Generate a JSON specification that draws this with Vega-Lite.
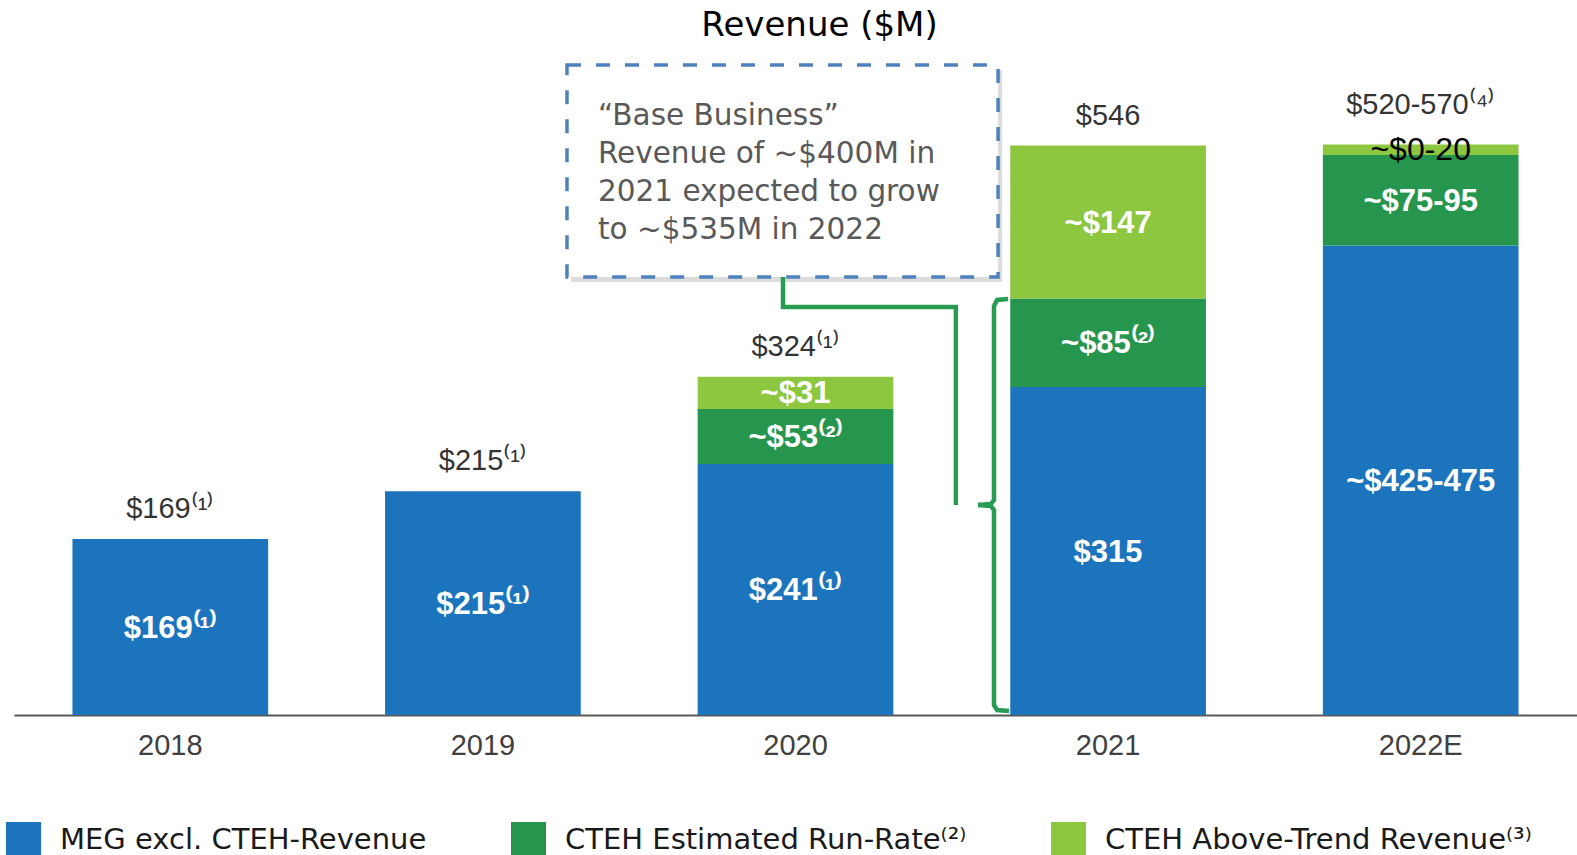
{
  "$schema": "https://vega.github.io/schema/vega-lite/v6.json",
  "width": 1563,
  "height": 665,
  "autosize": {"type": "none"},
  "padding": {"left": 14, "top": 50, "right": 0, "bottom": 140},
  "background": "white",
  "config": {"view": {"stroke": null}},
  "title": {"text": "Revenue ($M)", "font": "DejaVu Sans", "fontSize": 34, "fontWeight": "normal", "color": "#000000", "anchor": "middle", "dx": 24, "offset": -20, "baseline": "alphabetic"},
  "datasets": {
    "segments": [
      {"year": "2018", "segment": "MEG excl. CTEH-Revenue", "order": 1, "value": 169, "label": "$169⁽¹⁾"},
      {"year": "2019", "segment": "MEG excl. CTEH-Revenue", "order": 1, "value": 215, "label": "$215⁽¹⁾"},
      {"year": "2020", "segment": "MEG excl. CTEH-Revenue", "order": 1, "value": 241, "label": "$241⁽¹⁾"},
      {"year": "2020", "segment": "CTEH Estimated Run-Rate⁽²⁾", "order": 2, "value": 53, "label": "~$53⁽²⁾"},
      {"year": "2020", "segment": "CTEH Above-Trend Revenue⁽³⁾", "order": 3, "value": 31, "label": "~$31"},
      {"year": "2021", "segment": "MEG excl. CTEH-Revenue", "order": 1, "value": 315, "label": "$315"},
      {"year": "2021", "segment": "CTEH Estimated Run-Rate⁽²⁾", "order": 2, "value": 85, "label": "~$85⁽²⁾"},
      {"year": "2021", "segment": "CTEH Above-Trend Revenue⁽³⁾", "order": 3, "value": 147, "label": "~$147"},
      {"year": "2022E", "segment": "MEG excl. CTEH-Revenue", "order": 1, "value": 451, "label": "~$425-475"},
      {"year": "2022E", "segment": "CTEH Estimated Run-Rate⁽²⁾", "order": 2, "value": 87, "label": "~$75-95"},
      {"year": "2022E", "segment": "CTEH Above-Trend Revenue⁽³⁾", "order": 3, "value": 10, "label": "~$0-20"}
    ],
    "totals": [
      {"year": "2018", "total": 169, "label": "$169⁽¹⁾"},
      {"year": "2019", "total": 215, "label": "$215⁽¹⁾"},
      {"year": "2020", "total": 325, "label": "$324⁽¹⁾"},
      {"year": "2021", "total": 547, "label": "$546"},
      {"year": "2022E", "total": 548, "label": "$520-570⁽⁴⁾"}
    ],
    "connectors": [
      {"seg": "link", "o": 1, "xi": 1.960, "v": 420.7},
      {"seg": "link", "o": 2, "xi": 1.960, "v": 391.9},
      {"seg": "link", "o": 3, "xi": 2.513, "v": 391.9},
      {"seg": "link", "o": 4, "xi": 2.513, "v": 201.7},
      {"seg": "braceTop", "o": 1, "xi": 2.680, "v": 399.6},
      {"seg": "braceTop", "o": 2, "xi": 2.645, "v": 398.7},
      {"seg": "braceTop", "o": 3, "xi": 2.635, "v": 392.9},
      {"seg": "braceTop", "o": 4, "xi": 2.635, "v": 206.5},
      {"seg": "braceTop", "o": 5, "xi": 2.625, "v": 202.7},
      {"seg": "braceTop", "o": 6, "xi": 2.584, "v": 201.7},
      {"seg": "braceBottom", "o": 1, "xi": 2.584, "v": 201.7},
      {"seg": "braceBottom", "o": 2, "xi": 2.625, "v": 200.8},
      {"seg": "braceBottom", "o": 3, "xi": 2.635, "v": 196.9},
      {"seg": "braceBottom", "o": 4, "xi": 2.635, "v": 9.6},
      {"seg": "braceBottom", "o": 5, "xi": 2.645, "v": 4.8},
      {"seg": "braceBottom", "o": 6, "xi": 2.683, "v": 3.8}
    ]
  },
  "resolve": {"scale": {"x": "independent"}},
  "layer": [
    {
      "data": {"name": "segments"},
      "transform": [
        {"stack": "value", "groupby": ["year"], "sort": [{"field": "order", "order": "ascending"}], "as": ["y0", "y1"]}
      ],
      "layer": [
        {
          "mark": {"type": "bar"},
          "encoding": {
            "x": {"field": "year", "type": "nominal", "sort": null,
              "scale": {"domain": ["2018", "2019", "2020", "2021", "2022E"], "paddingInner": 0.374, "paddingOuter": 0.187},
              "axis": {"title": null, "labelAngle": 0, "labelFont": "Liberation Sans", "labelFontSize": 29, "labelColor": "#404040", "ticks": false, "domainColor": "#595959", "domainWidth": 2, "labelPadding": 16, "grid": false}},
            "y": {"field": "y0", "type": "quantitative", "scale": {"domain": [0, 638.8], "nice": false, "zero": true}, "axis": null},
            "y2": {"field": "y1"},
            "color": {"field": "segment", "type": "nominal",
              "scale": {"domain": ["MEG excl. CTEH-Revenue", "CTEH Estimated Run-Rate⁽²⁾", "CTEH Above-Trend Revenue⁽³⁾"], "range": ["#1C75BC", "#26964E", "#8DC63F"]},
              "legend": {"title": null, "orient": "none", "direction": "horizontal", "legendX": -8, "legendY": 772, "symbolType": "square", "symbolSize": 1225, "symbolStrokeWidth": 0, "labelFont": "DejaVu Sans", "labelFontSize": 29, "labelColor": "#1a1a1a", "labelOffset": 19, "columnPadding": 84, "labelLimit": 700}}
          }
        },
        {
          "transform": [
            {"fold": ["y0", "y1"], "as": ["edge", "yy"]},
            {"aggregate": [{"op": "mean", "field": "yy", "as": "mid"}], "groupby": ["year", "order", "label"]}
          ],
          "layer": [
            {
              "transform": [{"filter": "!(datum.year === '2022E' && datum.order === 3)"}],
              "mark": {"type": "text", "font": "Liberation Sans", "fontWeight": "bold", "fontSize": 31, "color": "#ffffff", "baseline": "alphabetic", "dy": 10.5},
              "encoding": {
                "x": {"field": "year", "type": "nominal", "sort": null},
                "y": {"field": "mid", "type": "quantitative"},
                "text": {"field": "label", "type": "nominal"}
              }
            },
            {
              "transform": [{"filter": "datum.year === '2022E' && datum.order === 3"}],
              "mark": {"type": "text", "font": "Liberation Sans", "fontWeight": "normal", "fontSize": 32, "color": "#000000", "baseline": "alphabetic", "dy": 10},
              "encoding": {
                "x": {"field": "year", "type": "nominal", "sort": null},
                "y": {"field": "mid", "type": "quantitative"},
                "text": {"field": "label", "type": "nominal"}
              }
            }
          ]
        }
      ]
    },
    {
      "data": {"name": "totals"},
      "layer": [
        {
          "transform": [{"filter": "datum.year !== '2022E'"}],
          "mark": {"type": "text", "font": "Liberation Sans", "fontSize": 29, "color": "#333333", "baseline": "alphabetic", "dy": -21},
          "encoding": {
            "x": {"field": "year", "type": "nominal", "sort": null, "scale": {"domain": ["2018", "2019", "2020", "2021", "2022E"], "paddingInner": 0.374, "paddingOuter": 0.187}, "axis": null},
            "y": {"field": "total", "type": "quantitative"},
            "text": {"field": "label", "type": "nominal"}
          }
        },
        {
          "transform": [{"filter": "datum.year === '2022E'"}],
          "mark": {"type": "text", "font": "Liberation Sans", "fontSize": 29, "color": "#333333", "baseline": "alphabetic", "dy": -31},
          "encoding": {
            "x": {"field": "year", "type": "nominal", "sort": null},
            "y": {"field": "total", "type": "quantitative"},
            "text": {"field": "label", "type": "nominal"}
          }
        }
      ]
    },
    {
      "data": {"values": [{}]},
      "layer": [
        {
          "mark": {"type": "rect", "fill": "#9a9a9a", "opacity": 0.35},
          "encoding": {
            "x": {"datum": 1.282, "type": "quantitative", "scale": {"domain": [-0.5, 4.5], "nice": false, "zero": false}, "axis": null},
            "x2": {"datum": 2.661},
            "y": {"datum": 619.6, "type": "quantitative"},
            "y2": {"datum": 415.9}
          }
        },
        {
          "mark": {"type": "rect", "fill": "#ffffff", "stroke": "#4F81BD", "strokeWidth": 3.5, "strokeDash": [14, 15]},
          "encoding": {
            "x": {"datum": 1.269, "type": "quantitative"},
            "x2": {"datum": 2.648},
            "y": {"datum": 624.4, "type": "quantitative"},
            "y2": {"datum": 420.7}
          }
        },
        {
          "mark": {"type": "text", "font": "DejaVu Sans", "fontSize": 29.5, "color": "#595959", "align": "left", "baseline": "alphabetic", "lineBreak": "\n", "lineHeight": 38.2},
          "encoding": {
            "x": {"datum": 1.368, "type": "quantitative"},
            "y": {"datum": 567, "type": "quantitative"},
            "text": {"value": "“Base Business”\nRevenue of ~$400M in\n2021 expected to grow\nto ~$535M in 2022"}
          }
        },
        {
          "data": {"name": "connectors"},
          "mark": {"type": "line", "color": "#2A9B52", "strokeWidth": 4.5, "strokeCap": "butt", "strokeJoin": "miter"},
          "encoding": {
            "x": {"field": "xi", "type": "quantitative"},
            "y": {"field": "v", "type": "quantitative"},
            "detail": {"field": "seg", "type": "nominal"},
            "order": {"field": "o", "type": "quantitative"}
          }
        }
      ]
    }
  ]
}
